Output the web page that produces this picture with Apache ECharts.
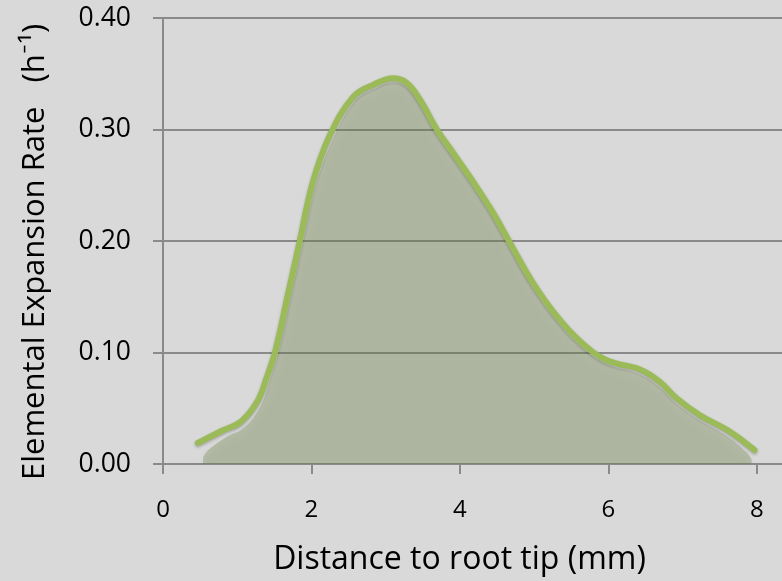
<!DOCTYPE html>
<html>
<head>
<meta charset="utf-8">
<script src="https://cdn.jsdelivr.net/npm/echarts@6/dist/echarts.min.js"></script>
<style>
  html, body { margin: 0; padding: 0; background: #d9d9d9; }
  #chart { width: 782px; height: 581px; }
</style>
</head>
<body>
<div id="chart"></div>
<script>
// Distance from the root tip (mm) and elemental expansion rate (1/h) along the curve
const distances = [0.47, 0.80, 1.05, 1.27, 1.40, 1.52, 1.67, 1.84, 2.02, 2.25, 2.56, 2.83, 3.10, 3.28, 3.46, 3.69, 3.91, 4.18, 4.45, 4.67, 4.98, 5.30, 5.62, 5.98, 6.42, 6.69, 6.92, 7.23, 7.64, 7.97];
const rates     = [0.019, 0.030, 0.038, 0.056, 0.078, 0.103, 0.148, 0.199, 0.253, 0.295, 0.329, 0.340, 0.346, 0.342, 0.327, 0.300, 0.279, 0.253, 0.225, 0.199, 0.163, 0.133, 0.110, 0.093, 0.085, 0.074, 0.059, 0.044, 0.029, 0.0125];

// Shaded region under the curve, sitting just inside the outline
const fillDistances = [0.54, 0.62, 0.85, 1.08, 1.30, 1.44, 1.56, 1.71, 1.88, 2.06, 2.29, 2.58, 2.84, 3.10, 3.28, 3.45, 3.67, 3.89, 4.16, 4.43, 4.65, 4.96, 5.28, 5.60, 5.96, 6.40, 6.67, 6.90, 7.21, 7.60, 7.87, 7.93];
const fillRates     = [0.006, 0.013, 0.024, 0.032, 0.050, 0.075, 0.101, 0.146, 0.197, 0.250, 0.291, 0.325, 0.336, 0.342, 0.338, 0.323, 0.297, 0.276, 0.250, 0.222, 0.196, 0.160, 0.130, 0.107, 0.090, 0.081, 0.070, 0.055, 0.040, 0.025, 0.010, 0.004];

const xTicks = [0, 2, 4, 6, 8];

const pairs = (xs, ys) => xs.map((x, i) => [x, ys[i]]);

const axisGray = '#8a8a8a';
const fontFamily = '"Open Sans", Lato, sans-serif';

const chart = echarts.init(document.getElementById('chart'), null, { renderer: 'canvas' });
chart.setOption({
  backgroundColor: '#d9d9d9',
  animation: false,
  grid: { left: 163, right: 0, top: 18, bottom: 115 },
  xAxis: {
    type: 'value',
    min: 0,
    max: 8.34,
    name: 'Distance to root tip (mm)',
    nameLocation: 'middle',
    nameGap: 80,
    nameTextStyle: { fontFamily, fontSize: 32, color: '#000', padding: [0, 26, 0, 0] },
    axisLine: { show: true, onZero: false, lineStyle: { color: axisGray, width: 2 } },
    axisTick: { show: true, length: 10, customValues: xTicks, lineStyle: { color: axisGray, width: 2 } },
    axisLabel: {
      customValues: xTicks,
      margin: 34,
      fontFamily, fontSize: 24, color: '#000',
      formatter: v => String(v)
    },
    splitLine: { show: false }
  },
  yAxis: {
    type: 'value',
    min: 0,
    max: 0.4,
    interval: 0.1,
    name: 'Elemental Expansion Rate   (h\u207B\u00B9)',
    nameLocation: 'middle',
    nameGap: 112,
    nameTextStyle: { fontFamily, fontSize: 31, color: '#000', padding: [0, 22, 0, 0] },
    axisLine: { show: true, lineStyle: { color: axisGray, width: 2 } },
    axisTick: { show: true, length: 10, lineStyle: { color: axisGray, width: 2 } },
    axisLabel: {
      margin: 32,
      fontFamily, fontSize: 26.5, color: '#000',
      formatter: v => v.toFixed(2)
    },
    splitLine: { show: true, lineStyle: { color: axisGray, width: 2 } }
  },
  series: [
    {
      type: 'line',
      data: pairs(fillDistances, fillRates),
      smooth: 0.4,
      symbol: 'none',
      lineStyle: { width: 0, opacity: 0 },
      areaStyle: {
        color: 'rgba(108,130,68,0.47)',
        shadowColor: 'rgba(0,0,0,0.15)',
        shadowBlur: 6,
        shadowOffsetY: 2
      },
      silent: true,
      z: 2
    },
    {
      type: 'line',
      data: pairs(distances, rates),
      smooth: 0.4,
      symbol: 'none',
      lineStyle: {
        color: '#9bbb59',
        width: 6,
        cap: 'round',
        shadowColor: 'rgba(0,0,0,0.25)',
        shadowBlur: 3,
        shadowOffsetY: 1.5
      },
      z: 3
    }
  ]
});
</script>
</body>
</html>
